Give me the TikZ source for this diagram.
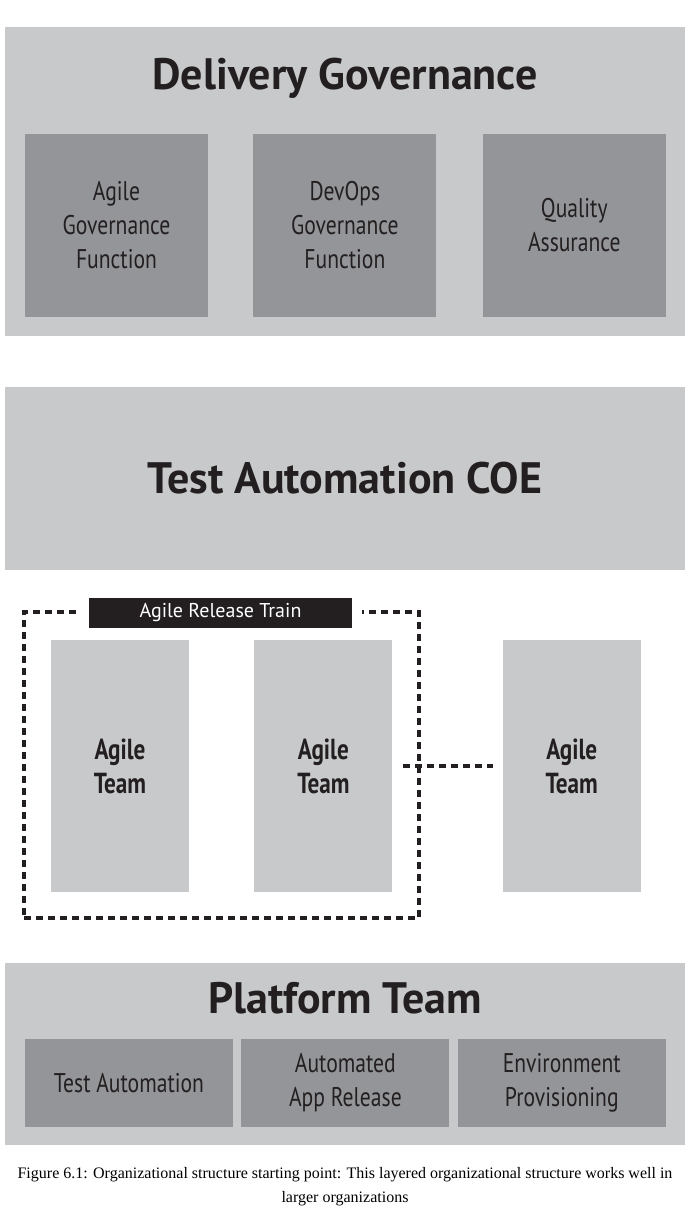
\documentclass[tikz,border=0pt]{standalone}
\usepackage{fontspec}
\setmainfont{PT Sans}
\newfontfamily\narrowfont{PT Sans}[FakeStretch=0.8]
\newfontfamily\capfont{Liberation Serif}
\usetikzlibrary{positioning}
\definecolor{paleGray}{HTML}{C8C9CB}
\definecolor{midGray}{HTML}{939598}
\definecolor{inkBlack}{HTML}{231F20}

\tikzset{
  layer/.style={fill=paleGray, minimum width=680pt, inner sep=0pt},
  unit/.style={fill=midGray, text=inkBlack, align=center, inner sep=0pt,
    font=\narrowfont\fontsize{27}{34}\selectfont},
  team/.style={fill=paleGray, text=inkBlack, align=center, inner sep=0pt,
    minimum width=138pt, minimum height=252pt,
    font=\narrowfont\bfseries\fontsize{29}{34}\selectfont},
  heading/.style={text=inkBlack, inner sep=0pt, font=\bfseries\fontsize{44}{50}\selectfont},
  dashline/.style={inkBlack, line width=3.5pt, dash pattern=on 7pt off 5pt}
}

\begin{document}
\begin{tikzpicture}[x=1pt, y=-1pt]
\useasboundingbox (0,0) rectangle (690,1218);

% delivery governance
\node[layer, minimum height=309pt] (deliv) at (345,181.5) {};
\node[heading] (delivT) at (345,78) {Delivery Governance};
\node[unit, minimum width=183pt, minimum height=183pt] (agf) at (116.5,225.5) {Agile\\Governance\\Function};
\node[unit, minimum width=183pt, minimum height=183pt, right=45pt of agf] (dgf) {DevOps\\Governance\\Function};
\node[unit, minimum width=183pt, minimum height=183pt, right=46pt of dgf] (qa) {Quality\\Assurance};

% coe
\node[layer, heading, minimum height=183pt] (coe) at (345,478.5) {Test Automation COE};

% release train
\node[team] (team1) at (120,766) {Agile\\Team};
\node[team, right=65pt of team1] (team2) {Agile\\Team};
\node[team, right=110pt of team2] (team3) {Agile\\Team};
\node[dashline, draw, minimum width=395pt, minimum height=306pt] (art) at (221.5,765) {};
\node[fill=inkBlack, draw=white, line width=10pt, text=white, inner sep=0pt,
  minimum width=273pt, minimum height=40pt, font=\fontsize{20}{22}\selectfont] (artT) at (220.5,613) {Agile Release Train};
\draw[dashline] ([xshift=10pt]team2.east) -- ([xshift=-10pt]team3.west);

% platform
\node[layer, minimum height=182pt] (plat) at (345,1054) {};
\node[heading] (platT) at (345,998) {Platform Team};
\node[unit, minimum width=208pt, minimum height=88pt] (testA) at (129,1083) {Test Automation};
\node[unit, minimum width=208pt, minimum height=88pt, right=8pt of testA] (appR) {Automated\\App Release};
\node[unit, minimum width=208pt, minimum height=88pt, right=8pt of appR] (envP) {Environment\\Provisioning};

\node[align=center, inner sep=0pt, font=\capfont\fontsize{16}{24}\selectfont] (cap) at (345,1187)
  {Figure 6.1: Organizational structure starting point: This layered organizational structure works well in\\larger organizations};
\end{tikzpicture}
\end{document}
